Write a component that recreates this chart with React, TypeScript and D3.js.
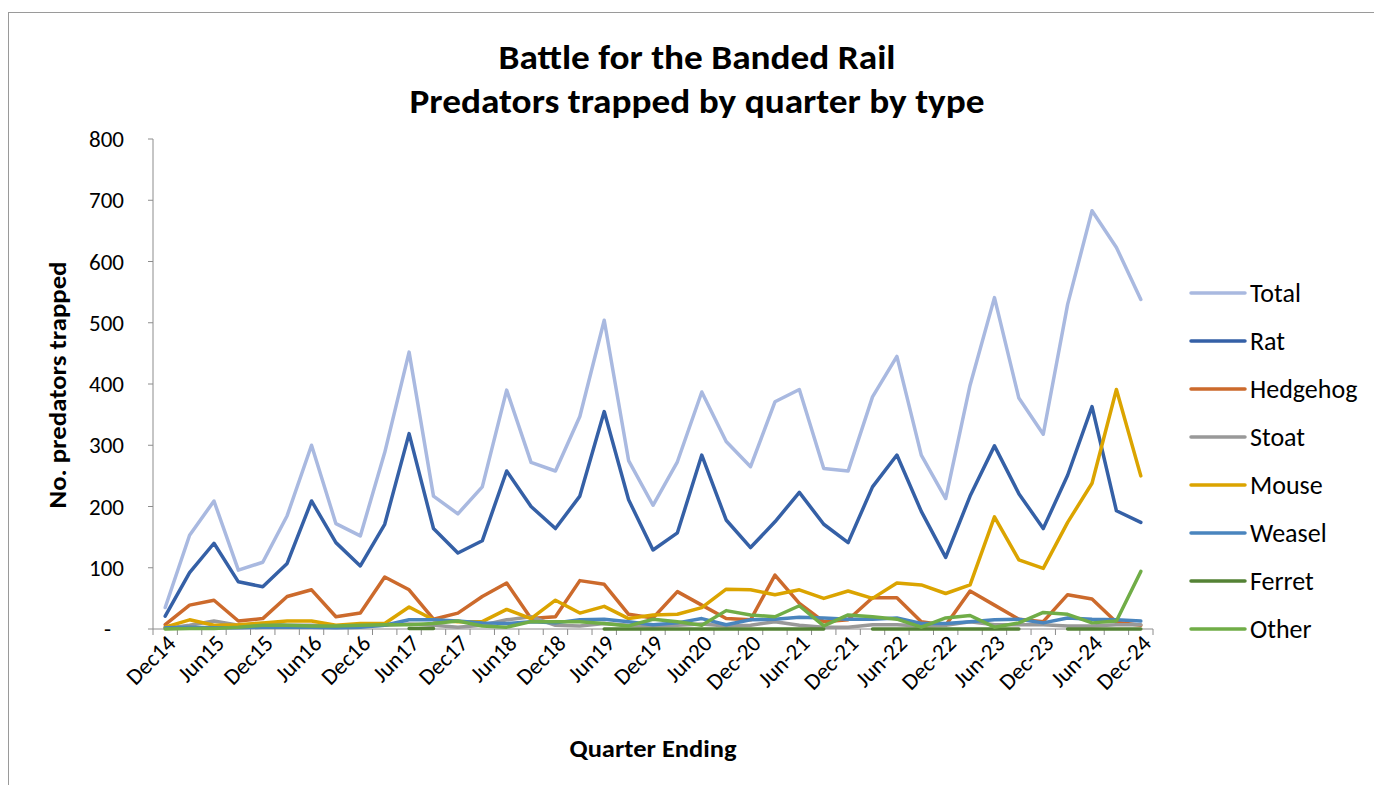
import React from "react";
import * as d3 from "d3";

const quarters: string[] = [
  "Dec14","Mar15","Jun15","Sep15","Dec15","Mar16","Jun16","Sep16","Dec16","Mar17","Jun17",
  "Sep17","Dec17","Mar18","Jun18","Sep18","Dec18","Mar19","Jun19","Sep19","Dec19",
  "Mar20","Jun20","Sep20","Dec-20","Mar-21","Jun-21","Sep-21","Dec-21","Mar-22","Jun-22",
  "Sep-22","Dec-22","Mar-23","Jun-23","Sep-23","Dec-23","Mar-24","Jun-24","Sep-24","Dec-24",
];

const total = [35,153,209,96,109,185,300,172,152,288,452,217,188,232,390,272,258,347,504,275,202,273,387,306,265,371,391,262,258,379,445,284,213,398,541,377,318,530,683,623,538];
const rat = [21,92,140,77,69,107,209,141,103,171,319,164,124,144,258,200,164,217,355,211,129,157,284,178,133,175,223,171,141,232,284,192,117,217,299,221,164,251,363,193,174];
const hedgehog = [7,39,47,13,17,53,64,20,26,85,64,16,26,53,75,17,20,79,73,24,18,61,39,17,15,88,42,12,15,51,51,12,6,62,39,16,12,56,49,11,6];
const stoat = [1,6,13,6,9,6,6,5,5,6,8,6,3,6,15,20,6,5,9,6,5,6,8,5,6,12,6,3,3,7,7,5,6,12,7,7,7,5,5,7,7];
const mouse = [3,15,6,7,10,13,13,6,9,9,36,15,12,12,32,17,47,26,37,17,23,24,35,65,64,56,64,50,62,50,75,72,58,72,183,113,99,174,238,391,250];
const weasel = [2,3,2,2,3,3,3,2,3,6,15,15,13,10,9,12,10,15,16,12,7,10,17,7,15,16,19,18,16,16,18,9,9,12,15,16,10,18,16,15,13];
const ferret: (number | null)[] = [null,null,null,null,null,null,null,null,null,null,1,1,null,null,null,null,null,null,0,0,0,0,0,0,0,0,0,0,null,0,0,0,0,0,0,0,null,0,0,0,0];
const other = [0,1,1,3,6,6,5,5,6,7,7,9,13,5,3,12,12,12,9,5,16,12,6,30,23,20,38,5,23,20,16,3,18,22,3,10,27,24,10,13,94];

const seriesNames = ["Total","Rat","Hedgehog","Stoat","Mouse","Weasel","Ferret","Other"];
const seriesData: (number | null)[][] = [total, rat, hedgehog, stoat, mouse, weasel, ferret, other];
const seriesColors = ["#A9B9E0","#3560A6","#CC6A2C","#999999","#DBA400","#4A85BE","#548235","#70AD47"];

const yTicks = [0,100,200,300,400,500,600,700,800];

const FONT = "Calibri, Carlito, Lato, sans-serif";

export default function App() {
  const left = 153, right = 1153, top = 139, bottom = 629;
  const x = d3.scaleBand<number>().domain(quarters.map((_, i) => i)).range([left, right]).padding(0);
  const bw = x.bandwidth();
  const cx = (i: number) => (x(i) as number) + bw / 2;
  const y = d3.scaleLinear().domain([0, 800]).range([bottom, top]);

  const line = d3.line<number | null>()
    .defined((d) => d != null)
    .x((_, i) => cx(i))
    .y((d) => y(d as number));

  const boundaries = d3.range(quarters.length + 1).map((k) => left + k * bw);

  return (
    <svg width={1374} height={785} style={{ position: "absolute", left: 0, top: 0, background: "#fff" }} fontFamily={FONT}>
      <rect x={8.5} y={12.5} width={1400} height={800} fill="#fff" stroke="#9a9a9a" strokeWidth={1} />
      <text x={697} y={69} textAnchor="middle" fontWeight="bold" fontSize={34} textLength={397} lengthAdjust="spacingAndGlyphs" fill="#000">Battle for the Banded Rail</text>
      <text x={697} y={113} textAnchor="middle" fontWeight="bold" fontSize={34} textLength={575} lengthAdjust="spacingAndGlyphs" fill="#000">Predators trapped by quarter by type</text>

      {/* y axis */}
      <line x1={left} x2={left} y1={top} y2={bottom} stroke="#8c8c8c" strokeWidth={1} />
      {yTicks.map((t) => (
        <g key={t}>
          <line x1={left - 5} x2={left} y1={y(t)} y2={y(t)} stroke="#8c8c8c" />
          <text x={t === 0 ? 111 : 124} y={y(t)} dy="0.35em" textAnchor="end" fontSize={23} fill="#000">
            {t === 0 ? "-" : d3.format("d")(t)}
          </text>
        </g>
      ))}
      <text transform={`translate(57,385) rotate(-90)`} textAnchor="middle" dy="0.35em" fontWeight="bold" fontSize={25} textLength={247} lengthAdjust="spacingAndGlyphs" fill="#000">No. predators trapped</text>

      {/* x axis */}
      <line x1={left} x2={right} y1={bottom} y2={bottom} stroke="#8c8c8c" strokeWidth={1} />
      {boundaries.map((b, k) => (
        <line key={k} x1={b} x2={b} y1={bottom} y2={bottom + 6} stroke="#8c8c8c" />
      ))}
      {quarters.map((q, i) => (i % 2 === 0 ? (
        <text key={q} transform={`translate(${cx(i) + 6},${bottom + 10}) rotate(-45)`} textAnchor="end" dy="0.35em" fontSize={23} fill="#000">{q}</text>
      ) : null))}
      <text x={653} y={748} dy="0.35em" textAnchor="middle" fontWeight="bold" fontSize={25} textLength={167} lengthAdjust="spacingAndGlyphs" fill="#000">Quarter Ending</text>

      {/* series */}
      {seriesData.map((d, s) => (
        <path key={seriesNames[s]} d={line(d) || ""} fill="none" stroke={seriesColors[s]} strokeWidth={3.5} strokeLinejoin="round" strokeLinecap="round" />
      ))}

      {/* legend */}
      {seriesNames.map((n, s) => {
        const ly = 293 + s * 48;
        return (
          <g key={n}>
            <line x1={1191} x2={1245} y1={ly} y2={ly} stroke={seriesColors[s]} strokeWidth={3.5} strokeLinecap="round" />
            <text x={1250} y={ly} dy="0.35em" fontSize={26} fill="#000">{n}</text>
          </g>
        );
      })}
    </svg>
  );
}
